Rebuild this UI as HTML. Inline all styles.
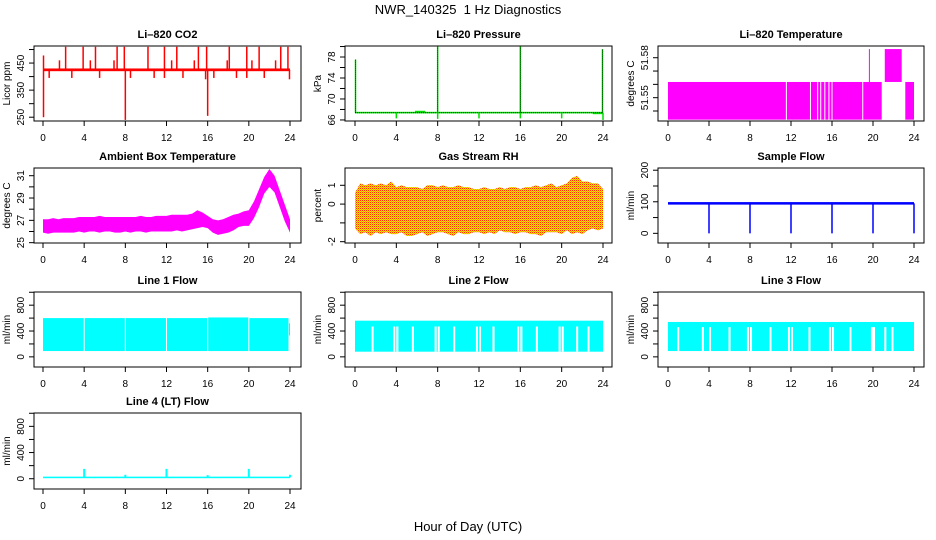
<!DOCTYPE html>
<html><head><meta charset="utf-8"><style>
html,body{margin:0;padding:0;background:#fff}
svg{display:block;font-family:"Liberation Sans",sans-serif}
</style></head><body>
<svg id="c" width="936" height="540" viewBox="0 0 936 540">
<defs>
<pattern id="rhpat" width="2" height="2" patternUnits="userSpaceOnUse"><rect width="2" height="2" fill="#ffdd00"/><rect width="1" height="1" fill="#ff3000"/><rect x="1" y="1" width="1" height="1" fill="#ffa000"/></pattern>
</defs>
<text x="468" y="14" text-anchor="middle" font-size="13">NWR_140325&#160; 1 Hz Diagnostics</text>
<text x="468" y="531" text-anchor="middle" font-size="13">Hour of Day (UTC)</text>
</svg>
<script>
// ---- data ----
const xTicks=[0,4,8,12,16,20,24];
// CO2
const co2Base=425;
const co2SpikeHours=[2.2,3.9,5.1,7.2,7.9,10.2,11.8,13.0,15.1,15.9,18.1,19.8,21.0,23.1,23.8,1.6,4.6,6.9,12.5,14.7,17.9,20.3,22.6,0.05];
const co2SpikeVals=[510,510,510,510,510,510,510,510,510,510,510,510,510,510,510,460,460,460,460,460,460,460,460,478];
const co2DipHours=[0.6,2.8,5.5,8.5,10.8,11.8,13.6,16.6,18.8,19.8,21.5,23.95,0.05,8.0,16.0,15.8];
const co2DipVals=[395,395,395,395,395,395,395,395,395,395,395,390,250,240,255,390];
// Pressure
const presBase=67.4;
const presSpikeHours=[0.05,8.0,16.0,23.95];
const presSpikeVals=[77.5,80,80,79.5];
const presDipHours=[4,8,12,16,20,24];
const presDipVals=[66.3,66.2,66.3,66.3,66.3,66.0];
// Li-820 temperature segments
const tStart=[0,11.6,13.95,14.65,14.95,15.35,15.75,16.05,19.05,19.6,21.15,23.15];
const tEnd=[11.5,13.85,14.55,14.85,15.25,15.65,15.95,18.95,20.85,19.65,22.8,24];
const tLow=[51.5335,51.5335,51.5335,51.5335,51.5335,51.5335,51.5335,51.5335,51.5335,51.5618,51.5618,51.5335];
const tHigh=[51.5618,51.5618,51.5618,51.5618,51.5618,51.5618,51.5618,51.5618,51.5618,51.5865,51.5865,51.5618];
// Ambient temperature (half-hour points, 0..24)
const ambLo=[25.9,25.8,25.9,25.9,25.9,25.9,25.9,26.0,25.9,26.0,26.0,25.9,26.0,26.0,25.9,25.9,26.0,25.9,26.0,26.0,25.9,26.0,26.0,26.0,26.0,26.0,26.1,26.0,26.1,26.2,26.3,26.4,26.3,25.9,25.7,25.8,25.9,26.1,26.4,26.5,26.5,27.2,28.2,29.4,30.0,29.5,28.2,26.9,25.9];
const ambHi=[27.1,27.1,27.2,27.1,27.2,27.2,27.2,27.3,27.3,27.3,27.3,27.4,27.3,27.3,27.3,27.3,27.3,27.3,27.3,27.4,27.3,27.3,27.4,27.4,27.4,27.5,27.5,27.5,27.5,27.6,27.9,27.7,27.4,27.1,27.0,27.1,27.3,27.5,27.6,27.8,27.9,28.7,29.8,30.9,31.6,31.0,29.7,28.4,27.1];
// Gas stream RH (half-hour points)
const rhLo=[-1.3,-1.6,-1.5,-1.7,-1.5,-1.6,-1.5,-1.6,-1.6,-1.5,-1.7,-1.7,-1.6,-1.5,-1.7,-1.6,-1.5,-1.5,-1.6,-1.7,-1.5,-1.6,-1.6,-1.5,-1.5,-1.6,-1.5,-1.6,-1.4,-1.5,-1.5,-1.6,-1.5,-1.5,-1.6,-1.6,-1.7,-1.5,-1.5,-1.5,-1.6,-1.4,-1.6,-1.5,-1.6,-1.4,-1.3,-1.4,-1.3];
const rhHi=[0.6,1.1,1.0,1.1,1.0,1.1,1.0,1.2,0.9,1.0,0.9,0.9,0.9,0.8,1.0,1.0,0.9,1.0,0.9,0.9,1.0,0.9,0.9,0.8,0.8,0.9,0.8,0.8,0.9,0.8,0.9,0.9,0.8,0.9,0.9,1.0,0.9,1.0,1.1,0.9,1.0,1.1,1.4,1.5,1.2,1.2,1.1,1.1,0.8];
// Sample flow
const sfBase=95;
const sfDipHours=[4,8,12,16,20,24];
const sfDipVals=[0,0,0,0,0,0];
// Line flows
const l1Start=[0,4.05,8.05,12.05,16.05,20.05,23.9];
const l1End=[3.95,7.95,11.95,15.95,19.95,23.85,24];
const l1Lo=[90,90,90,90,90,90,330];
const l1Hi=[600,600,600,600,610,600,520];
const l2Lo=80, l2Hi=560;
const l2Gaps=[1.6,3.7,5.5,7.7,9.5,11.7,13.3,15.7,17.5,19.7,21.4,22.5];
const l3Lo=90, l3Hi=540;
const l3Gaps=[0.9,3.3,5.9,7.7,9.9,11.7,13.7,15.7,17.7,19.8,21.1,21.8];
const l4Base=20;
const l4SpikeHours=[4,8,12,16,20,24];
const l4SpikeVals=[150,60,150,55,150,60];

// ---- drawing ----
const svg=document.getElementById('c');
const NS='http://www.w3.org/2000/svg';
function mk(tag,attrs,parent){const e=document.createElementNS(NS,tag);for(const k in attrs)e.setAttribute(k,attrs[k]);(parent||svg).appendChild(e);return e;}
const cols=[{bx:34,bw:267,x0:43,x24:290},{bx:345,bw:267,x0:355,x24:603},{bx:658,bw:266,x0:668,x24:914}];
const rows=[{top:46,bot:121},{top:168,bot:243},{top:292,bot:367},{top:413,bot:489}];
function panel(ci,ri,name,title,ylab,ymin,ymax,ticks,labels){
  const c=cols[ci],r=rows[ri];
  const g=mk('g',{});
  
  
  const P={g,X:h=>c.x0+(c.x24-c.x0)*h/24,Y:v=>r.bot-(v-ymin)/(ymax-ymin)*(r.bot-r.top)};
  const t=mk('text',{x:c.bx+c.bw/2,y:r.top-8,'text-anchor':'middle','font-size':11,'font-weight':'bold'},g);t.textContent=title;
  
  P.box=()=>{const bx=mk('rect',{x:c.bx,y:r.top,width:c.bw,height:r.bot-r.top,fill:'none',stroke:'#000'},g);
    };
  xTicks.forEach(h=>{mk('line',{x1:P.X(h),x2:P.X(h),y1:r.bot,y2:r.bot+5,stroke:'#000'},g);
    const l=mk('text',{x:P.X(h),y:r.bot+20,'text-anchor':'middle','font-size':10},g);l.textContent=h;
    });
  const ax=c.bx;
  ticks.forEach(v=>{mk('line',{x1:ax-5,x2:ax,y1:P.Y(v),y2:P.Y(v),stroke:'#000'},g);});
  labels.forEach(v=>{const y=P.Y(v);const l=mk('text',{x:ax-10,y:y,'text-anchor':'middle','font-size':10,transform:`rotate(-90 ${ax-10} ${y})`},g);l.textContent=v;
    });
  const tx=c.bx-24;
  const yl=mk('text',{x:tx,y:(r.top+r.bot)/2,'text-anchor':'middle','font-size':10,transform:`rotate(-90 ${tx} ${(r.top+r.bot)/2})`},g);
  yl.textContent=ylab;
  return P;
}
function band(P,h0,h1,lo,hi,fill,name){const e=mk('rect',{x:P.X(h0),y:P.Y(hi),width:Math.max(1,P.X(h1)-P.X(h0)),height:Math.max(1,P.Y(lo)-P.Y(hi)),fill:fill},P.g);
  return e;}
function area(P,lo,hi,fill,name){let pts=[];hi.forEach((v,i)=>pts.push(P.X(i/2)+','+P.Y(v)));
  for(let i=lo.length-1;i>=0;i--)pts.push(P.X(i/2)+','+P.Y(lo[i]));
  const e=mk('polygon',{points:pts.join(' '),fill:fill},P.g);}
function vline(P,h,v0,v1,col,w,name){const e=mk('line',{x1:P.X(h),x2:P.X(h),y1:P.Y(v0),y2:P.Y(v1),stroke:col,'stroke-width':w||1.5},P.g);
  }

// CO2
let P=panel(0,0,'co2-panel','Li\u2013820 CO2','Licor ppm',236,513,[250,300,350,400,450,500],[250,350,450]);
band(P,0,24,co2Base-5,co2Base+5,'#ff0000','co2-line');
co2SpikeHours.forEach((h,i)=>vline(P,h,co2Base,co2SpikeVals[i],'#ff0000',1.5,'co2-spike'));
co2DipHours.forEach((h,i)=>vline(P,h,co2Base,co2DipVals[i],'#ff0000',1.5,'co2-dip'));
P.box();
// Pressure
P=panel(1,0,'pressure-panel','Li\u2013820 Pressure','kPa',65.8,80.1,[66,68,70,72,74,76,78,80],[66,70,74,78]);
band(P,0,24,presBase-0.15,presBase+0.15,'#00dd00','pressure-line');
band(P,5.8,6.8,presBase,presBase+0.35,'#00dd00','pressure-step');
band(P,23,24,presBase-0.3,presBase,'#00dd00','pressure-step');
mk('line',{x1:P.X(0),x2:P.X(24),y1:P.Y(presBase),y2:P.Y(presBase),stroke:'#000','stroke-dasharray':'1 1','stroke-width':1},P.g);
presSpikeHours.forEach((h,i)=>{vline(P,h,presBase,presSpikeVals[i],'#00dd00',1.5,'pressure-spike');
  mk('line',{x1:P.X(h),x2:P.X(h),y1:P.Y(presBase),y2:P.Y(presSpikeVals[i]),stroke:'#000','stroke-dasharray':'1 1','stroke-width':0.8},P.g);});
presDipHours.forEach((h,i)=>vline(P,h,presBase,presDipVals[i],'#00dd00',1.5,'pressure-dip'));
P.box();
// Li-820 Temp
P=panel(2,0,'li820-temp-panel','Li\u2013820 Temperature','degrees C',51.5325,51.5888,[51.54,51.55,51.56,51.57,51.58],[51.55,51.58]);
tStart.forEach((s,i)=>band(P,s,tEnd[i],tLow[i],tHigh[i],'#ff00ff','temp-segment'));
P.box();
// Ambient
P=panel(0,1,'ambient-temp-panel','Ambient Box Temperature','degrees C',24.97,31.69,[25,26,27,28,29,30,31],[25,27,29,31]);
area(P,ambLo,ambHi,'#ff00ff','ambient-band');
P.box();
// RH
P=panel(1,1,'rh-panel','Gas Stream RH','percent',-2.07,1.92,[-2,-1,0,1],[-2,0,1]);
area(P,rhLo,rhHi,'url(#rhpat)','rh-band');
P.box();
// Sample flow
P=panel(2,1,'sample-flow-panel','Sample Flow','ml/min',-30.6,207,[0,50,100,150,200],[0,100,200]);
band(P,0,24,sfBase-4,sfBase+4,'#0000ff','sample-flow-line');
sfDipHours.forEach((h,i)=>vline(P,h,sfBase,sfDipVals[i],'#0000ff',1.5,'sample-flow-dip'));
P.box();
// Line 1
P=panel(0,2,'line1-flow-panel','Line 1 Flow','ml/min',-157,1004,[0,200,400,600,800,1000],[0,400,800]);
l1Start.forEach((s,i)=>band(P,s,l1End[i],l1Lo[i],l1Hi[i],'#00ffff','line1-segment'));
P.box();
// Line 2
P=panel(1,2,'line2-flow-panel','Line 2 Flow','ml/min',-157,1004,[0,200,400,600,800,1000],[0,400,800]);
band(P,0,24,l2Lo,l2Hi,'#00ffff','line2-band');
[4,8,12,16,20].concat(l2Gaps).forEach(h=>band(P,h,h+0.2,l2Lo,l2Hi-90,'#ffffff','line2-gap'));
P.box();
// Line 3
P=panel(2,2,'line3-flow-panel','Line 3 Flow','ml/min',-157,1004,[0,200,400,600,800,1000],[0,400,800]);
band(P,0,24,l3Lo,l3Hi,'#00ffff','line3-band');
[4,8,12,16,20].concat(l3Gaps).forEach(h=>band(P,h,h+0.2,l3Lo,l3Hi-80,'#ffffff','line3-gap'));
P.box();
// Line 4
P=panel(0,3,'line4-flow-panel','Line 4 (LT) Flow','ml/min',-157,1004,[0,200,400,600,800,1000],[0,400,800]);
band(P,0,24,l4Base-12,l4Base+12,'#00ffff','line4-line');
l4SpikeHours.forEach((h,i)=>vline(P,h,l4Base,l4SpikeVals[i],'#00ffff',2,'line4-spike'));
P.box();
</script>
</body></html>
